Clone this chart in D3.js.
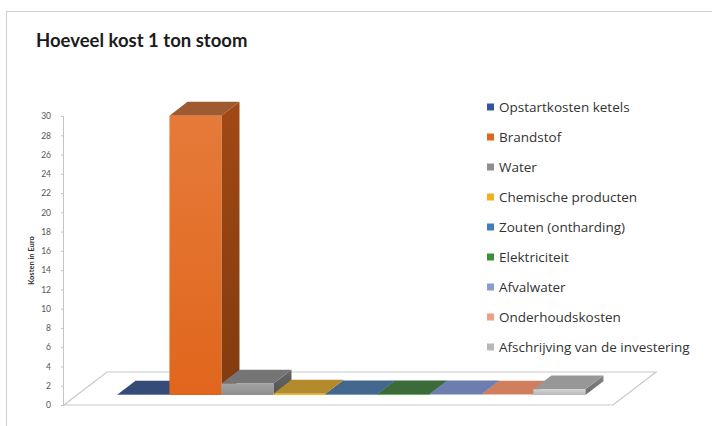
<!DOCTYPE html>
<html>
<head>
<meta charset="utf-8">
<script src="https://cdn.jsdelivr.net/npm/d3@7"></script>
<style>
  html, body { margin: 0; padding: 0; background: #ffffff; }
  svg { display: block; }
</style>
</head>
<body>
<svg id="chart" width="712" height="426"></svg>
<script>
// Cost breakdown of one ton of steam (euro)
const series = [
  "Opstartkosten ketels",
  "Brandstof",
  "Water",
  "Chemische producten",
  "Zouten (ontharding)",
  "Elektriciteit",
  "Afvalwater",
  "Onderhoudskosten",
  "Afschrijving van de investering"
];
const values = [0.05, 29.0, 1.2, 0.15, 0.08, 0.08, 0.08, 0.05, 0.6];
const colors = ["#2f55a4", "#e0661c", "#8f8f8f", "#f0b020", "#3f7cc0", "#3e8f3a", "#8a9cd0", "#f0a080", "#b8b8b8"];
const tickValues = d3.range(0, 31, 2);

const title = "Hoeveel kost 1 ton stoom";
const yTitle = "Kosten in Euro";

const svg = d3.select("#chart");

// outer frame
svg.append("rect")
  .attr("x", 6.5).attr("y", 11.5)
  .attr("width", 740).attr("height", 430)
  .attr("fill", "#ffffff")
  .attr("stroke", "#cfcfcf");

svg.append("text")
  .attr("x", 36).attr("y", 47)
  .attr("font-family", "Lato, 'Open Sans', sans-serif")
  .attr("font-weight", "bold")
  .attr("font-size", 18.5)
  .attr("fill", "#1c1c1c")
  .text(title);

// plot geometry: floor front edge and oblique depth vector
const floorLeft = 64, floorRight = 613;
const depth = { dx: 43, dy: 33 };
const barFront = 0.30, barBack = 0.72;

const y = d3.scaleLinear().domain([0, 30]).range([405, 116]);
const x = d3.scaleBand().domain(series).range([floorLeft, floorRight])
  .paddingInner(0).paddingOuter(0.78);

const proj = (px, v, f) => [px + f * depth.dx, y(v) - f * depth.dy];
const poly = pts => "M" + pts.map(p => p.join(",")).join("L") + "Z";

const defs = svg.append("defs");

function shade(c, k, sat = 1) {
  const h = d3.hsl(c);
  h.l = Math.max(0, Math.min(1, h.l * k));
  h.s = Math.max(0, Math.min(1, h.s * sat));
  return h.formatHex();
}

colors.forEach((c, i) => {
  const gf = defs.append("linearGradient").attr("id", "front" + i)
    .attr("x1", 0).attr("y1", 0).attr("x2", 0).attr("y2", 1);
  gf.append("stop").attr("offset", 0).attr("stop-color", shade(c, 1.14));
  gf.append("stop").attr("offset", 1).attr("stop-color", c);
  const gs = defs.append("linearGradient").attr("id", "side" + i)
    .attr("x1", 0).attr("y1", 0).attr("x2", 0).attr("y2", 1);
  gs.append("stop").attr("offset", 0).attr("stop-color", shade(c, 0.72));
  gs.append("stop").attr("offset", 1).attr("stop-color", shade(c, 0.58));
});

// floor
svg.append("path")
  .attr("d", poly([
    proj(floorLeft, 0, 0), proj(floorRight, 0, 0),
    proj(floorRight, 0, 1), proj(floorLeft, 0, 1)
  ]))
  .attr("fill", "#ffffff")
  .attr("stroke", "#c9c9c9")
  .attr("stroke-width", 1.2);

// value axis
const yAxis = svg.append("g")
  .attr("transform", `translate(${floorLeft},0)`)
  .call(d3.axisLeft(y).tickValues(tickValues).tickSize(3).tickPadding(10));
yAxis.select(".domain").attr("stroke", "#c4c4c4").attr("d", `M-0.5,${y(30)}V${y(0)}`);
yAxis.selectAll(".tick line").attr("stroke", "#c4c4c4");
yAxis.selectAll(".tick text")
  .attr("font-family", "Lato, 'Open Sans', sans-serif")
  .attr("font-size", 8.5)
  .attr("fill", "#555555");

svg.append("text")
  .attr("transform", `translate(34,${(y(0) + y(30)) / 2}) rotate(-90)`)
  .attr("text-anchor", "middle")
  .attr("font-family", "Lato, 'Open Sans', sans-serif")
  .attr("font-weight", "bold")
  .attr("font-size", 7.5)
  .attr("fill", "#333333")
  .text(yTitle);

// 3D columns, drawn left to right so later ones overlap earlier side faces
const bars = svg.append("g");
series.forEach((s, i) => {
  const v = values[i];
  const x0 = x(s), x1 = x(s) + x.bandwidth();
  const g = bars.append("g");
  g.append("path")
    .attr("d", poly([proj(x1, 0, barFront), proj(x1, 0, barBack), proj(x1, v, barBack), proj(x1, v, barFront)]))
    .attr("fill", `url(#side${i})`);
  g.append("path")
    .attr("d", poly([proj(x0, v, barFront), proj(x1, v, barFront), proj(x1, v, barBack), proj(x0, v, barBack)]))
    .attr("fill", shade(colors[i], 0.82, 0.7));
  g.append("path")
    .attr("d", poly([proj(x0, 0, barFront), proj(x1, 0, barFront), proj(x1, v, barFront), proj(x0, v, barFront)]))
    .attr("fill", `url(#front${i})`);
});

// legend
const legend = svg.append("g").attr("transform", "translate(487,107)");
const rows = legend.selectAll("g").data(series).join("g")
  .attr("transform", (d, i) => `translate(0,${i * 30})`);
rows.append("rect")
  .attr("x", 0).attr("y", -3.5).attr("width", 7).attr("height", 7)
  .attr("fill", (d, i) => colors[i]);
rows.append("text")
  .attr("x", 12).attr("y", 0).attr("dy", "0.35em")
  .attr("font-family", "'Open Sans', Lato, sans-serif")
  .attr("font-size", 13.5)
  .attr("fill", "#333333")
  .text(d => d);
</script>
</body>
</html>
